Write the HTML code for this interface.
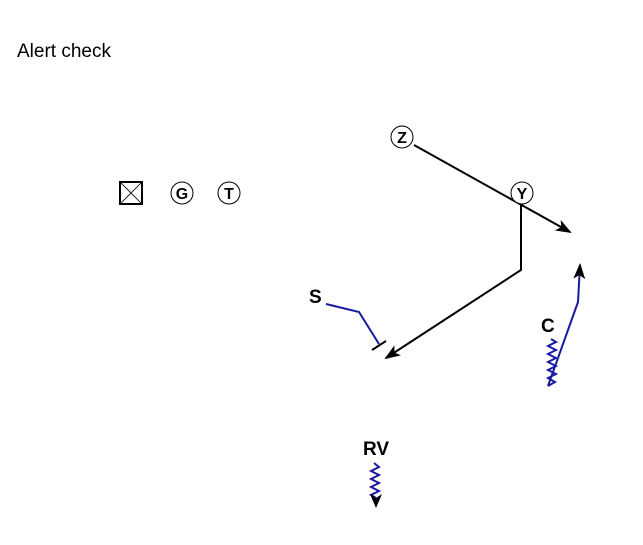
<!DOCTYPE html>
<html><head><style>body{margin:0;background:#fff;}svg{display:block}</style></head><body>
<svg width="643" height="545" xmlns="http://www.w3.org/2000/svg" font-family="Liberation Sans, sans-serif">
<defs>
<marker id="ab" markerWidth="16" markerHeight="12" refX="14" refY="6" orient="auto" markerUnits="userSpaceOnUse"><path d="M0,0 L16,6 L0,12 L4,6z" fill="#000"/></marker>
</defs>
<text x="17" y="57" font-size="19">Alert check</text>
<rect x="120" y="182" width="22" height="22" fill="#fff" stroke="#000" stroke-width="2"/>
<path d="M120,182 L142,204 M142,182 L120,204" stroke="#000" stroke-width="0.8"/>
<circle cx="182" cy="193" r="11" fill="#fff" stroke="#000"/>
<text x="182" y="199" font-size="16" font-weight="bold" text-anchor="middle">G</text>
<circle cx="229" cy="193" r="11" fill="#fff" stroke="#000"/>
<text x="229" y="199" font-size="16" font-weight="bold" text-anchor="middle">T</text>
<line x1="414" y1="145" x2="570" y2="232" stroke="#000" stroke-width="2" marker-end="url(#ab)"/>
<circle cx="402" cy="137" r="11" fill="#fff" stroke="#000"/>
<text x="402" y="143" font-size="16" font-weight="bold" text-anchor="middle">Z</text>
<polyline points="521,203 521,270 386,358" fill="none" stroke="#000" stroke-width="2" marker-end="url(#ab)"/>
<circle cx="522" cy="193" r="11" fill="#fff" stroke="#000"/>
<text x="522" y="199" font-size="16" font-weight="bold" text-anchor="middle">Y</text>
<text x="309" y="303" font-size="19" font-weight="bold">S</text>
<polyline points="326,304 359,312 379,344" fill="none" stroke="#1a1aa0" stroke-width="2"/>
<line x1="372" y1="350" x2="386" y2="341" stroke="#000" stroke-width="2"/>
<text x="541" y="332" font-size="19" font-weight="bold">C</text>
<polyline points="551,339 556,342 548,346 556,350 548,354 556,358 548,362 556,366 548,370 556,374 548,378 555,382 548,386" fill="none" stroke="#1a1aa0" stroke-width="2"/>
<polyline points="548,386 578,302 580,265" fill="none" stroke="#1a1aa0" stroke-width="2" marker-end="url(#ab)"/>
<text x="376" y="455" font-size="19" font-weight="bold" text-anchor="middle">RV</text>
<polyline points="374,463 379,467 371,471 379,475 371,479 379,483 371,487 379,491 371,495 376,498" fill="none" stroke="#1a1aa0" stroke-width="2"/>
<path d="M370,494 L376,508 L382,494 L376,498z" fill="#000"/>
</svg>
</body></html>
